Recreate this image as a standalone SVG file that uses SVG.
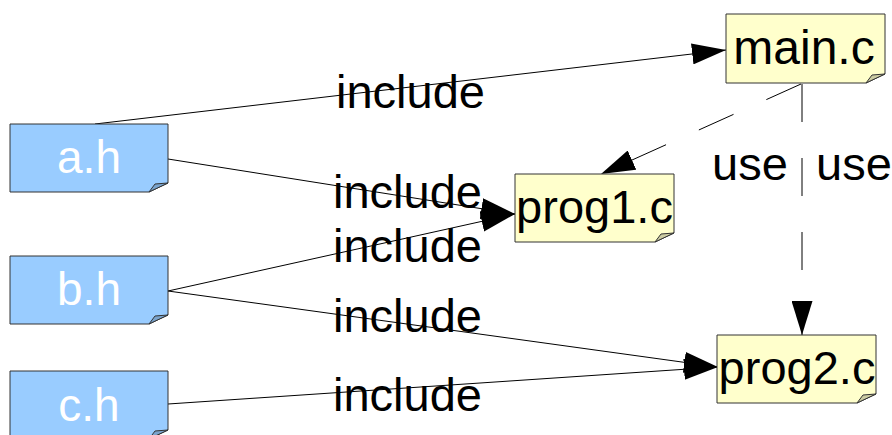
<svg xmlns="http://www.w3.org/2000/svg" width="892" height="435" viewBox="0 0 892 435">
  <style>
    .note-h { fill: #99ccff; stroke: #333333; stroke-width: 1; }
    .fold-h { fill: #7aa3cc; stroke: #333333; stroke-width: 1; }
    .note-c { fill: #ffffcc; stroke: #333333; stroke-width: 1; }
    .fold-c { fill: #cccca3; stroke: #333333; stroke-width: 1; }
    .name-h { font-family: "Liberation Sans", Arial, sans-serif; font-size: 46px; fill: #ffffff; text-anchor: middle; }
    .name-c { font-family: "Liberation Sans", Arial, sans-serif; font-size: 47px; fill: #000000; text-anchor: middle; }
    .edge { fill: none; stroke: #000000; stroke-width: 1; }
    .dashed { stroke-dasharray: 38 36; }
    .label { font-family: "Liberation Sans", Arial, sans-serif; font-size: 47px; fill: #000000; }
  </style>
  <defs>
    <marker id="arrow" markerUnits="userSpaceOnUse" markerWidth="34" markerHeight="21" refX="34" refY="10.5" orient="auto">
      <path d="M0,0 L34,10.5 L0,21 Z" fill="#000000" stroke="none"/>
    </marker>
  </defs>

  <!-- connectors -->
  <g id="connectors">
    <line class="edge" x1="95" y1="124" x2="726" y2="50" marker-end="url(#arrow)"/>
    <line class="edge" x1="168" y1="159" x2="515" y2="214" marker-end="url(#arrow)"/>
    <line class="edge" x1="168" y1="291" x2="515" y2="214" marker-end="url(#arrow)"/>
    <line class="edge" x1="168" y1="291" x2="718" y2="367" marker-end="url(#arrow)"/>
    <line class="edge" x1="168" y1="404" x2="718" y2="367" marker-end="url(#arrow)"/>
    <line class="edge dashed" x1="801" y1="84" x2="601" y2="174" marker-end="url(#arrow)"/>
    <line class="edge dashed" x1="802" y1="84" x2="802" y2="335" marker-end="url(#arrow)"/>
    <text class="label" x="336" y="108">include</text>
    <text class="label" x="333" y="208">include</text>
    <text class="label" x="333" y="262">include</text>
    <text class="label" x="333" y="332">include</text>
    <text class="label" x="333" y="411">include</text>
    <text class="label" x="712" y="180">use</text>
    <text class="label" x="816" y="180">use</text>
  </g>

  <!-- header files -->
  <g id="a_h">
    <path class="note-h" d="M10,124 H168 V183 L149,192 H10 Z"/>
    <path class="fold-h" d="M149,192 L155,184 L168,183 Z"/>
    <text class="name-h" x="89" y="173">a.h</text>
  </g>
  <g id="b_h">
    <path class="note-h" d="M10,256 H168 V315 L149,324 H10 Z"/>
    <path class="fold-h" d="M149,324 L155,316 L168,315 Z"/>
    <text class="name-h" x="89" y="305">b.h</text>
  </g>
  <g id="c_h">
    <path class="note-h" d="M10,371 H168 V430 L149,439 H10 Z"/>
    <path class="fold-h" d="M149,439 L155,431 L168,430 Z"/>
    <text class="name-h" x="89" y="421">c.h</text>
  </g>

  <!-- source files -->
  <g id="main_c">
    <path class="note-c" d="M726,14 H885 V74 L866,83 H726 Z"/>
    <path class="fold-c" d="M866,83 L872,75 L885,74 Z"/>
    <text class="name-c" x="804" y="64" style="font-size:48px">main.c</text>
  </g>
  <g id="prog1_c">
    <path class="note-c" d="M515,174 H674 V233 L655,242 H515 Z"/>
    <path class="fold-c" d="M655,242 L661,234 L674,233 Z"/>
    <text class="name-c" x="594.5" y="223">prog1.c</text>
  </g>
  <g id="prog2_c">
    <path class="note-c" d="M717,335 H876 V394 L857,403 H717 Z"/>
    <path class="fold-c" d="M857,403 L863,395 L876,394 Z"/>
    <text class="name-c" x="797" y="384">prog2.c</text>
  </g>
</svg>
